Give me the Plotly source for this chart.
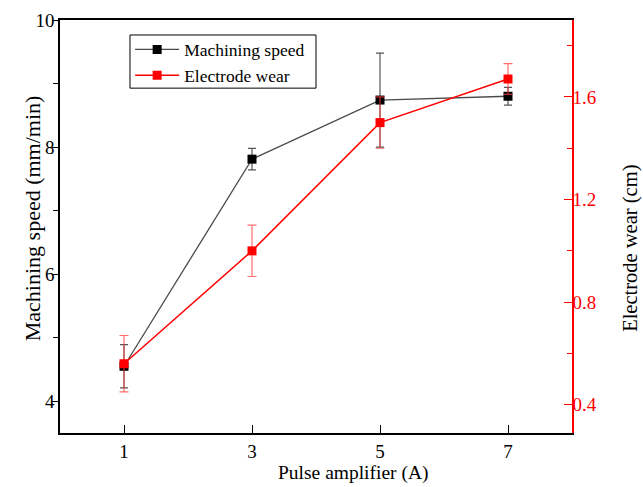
import plotly.graph_objects as go

pulse = [1, 3, 5, 7]
speed = [4.55, 7.81, 8.74, 8.80]
speed_err = [0.34, 0.17, 0.74, 0.14]
wear = [0.56, 1.00, 1.50, 1.67]
wear_err = [0.11, 0.10, 0.10, 0.06]

FONT = "Liberation Serif"

fig = go.Figure()
fig.add_trace(go.Scatter(
    x=pulse, y=speed, name="Machining speed", mode="lines+markers",
    line=dict(color="#4a4a4a", width=1.3),
    marker=dict(symbol="square", size=9, color="black"),
    error_y=dict(type="data", array=speed_err, color="#555555", thickness=1.2, width=4),
))
fig.add_trace(go.Scatter(
    x=pulse, y=wear, name="Electrode wear", mode="lines+markers", yaxis="y2",
    line=dict(color="#ff0000", width=1.5),
    marker=dict(symbol="square", size=9, color="#ff0000"),
    error_y=dict(type="data", array=wear_err, color="rgba(255,60,60,0.75)", thickness=1.2, width=4.5),
))

fig.update_layout(
    width=643, height=487,
    margin=dict(l=60, r=71, t=20, b=54),
    paper_bgcolor="white", plot_bgcolor="white",
    font=dict(family=FONT, size=19, color="black"),
    showlegend=True,
    legend=dict(
        x=0.137, y=0.972, xanchor="left", yanchor="top",
        borderwidth=0, bgcolor="rgba(0,0,0,0)",
        font=dict(family=FONT, size=17.5, color="black"),
        itemwidth=44, tracegroupgap=0,
    ),
    shapes=[
        dict(type="rect", xref="paper", yref="paper", x0=0.1367, x1=0.5, y0=0.835, y1=0.9637,
             line=dict(color="black", width=1), fillcolor="rgba(0,0,0,0)", layer="above"),
    ],
    xaxis=dict(
        range=[0, 8], tickvals=pulse, ticks="inside", ticklen=8, tickcolor="black",
        showline=True, linecolor="black", linewidth=1.5, mirror=True,
        showgrid=False, zeroline=False, automargin=False,
        tickfont=dict(size=19),
    ),
    yaxis=dict(
        range=[3.5, 10], tick0=0, dtick=2, ticks="outside", ticklen=6, tickcolor="black",
        minor=dict(dtick=1, ticks="outside", ticklen=5, tickcolor="black"),
        showline=True, linecolor="black", linewidth=1.5,
        showgrid=False, zeroline=False, automargin=False,
        tickfont=dict(size=19), ticklabelstandoff=-6,
    ),
    yaxis2=dict(
        range=[0.29, 1.9], overlaying="y", side="right",
        tickvals=[0.4, 0.8, 1.2, 1.6], ticktext=["0.4", "0.8", "1.2", "1.6"],
        ticks="inside", ticklen=8, tickcolor="#ff0000",
        minor=dict(tickvals=[0.6, 1.0, 1.4, 1.8], ticks="inside", ticklen=5, tickcolor="#ff0000"),
        showline=True, linecolor="#ff0000", linewidth=1.5,
        showgrid=False, zeroline=False, automargin=False,
        tickfont=dict(size=19, color="#ff0000"), ticklabelstandoff=-5,
    ),
    annotations=[
        dict(text="Pulse amplifier (A)", xref="paper", yref="paper", x=0.574, y=-0.098,
             xanchor="center", yanchor="middle", showarrow=False, font=dict(size=19.5)),
        dict(text="Machining speed (mm/min)", xref="paper", yref="paper", x=-0.0547, y=0.52,
             xanchor="center", yanchor="middle", textangle=-90, showarrow=False, font=dict(size=22)),
        dict(text="Electrode wear (cm)", xref="paper", yref="paper", x=1.115, y=0.448,
             xanchor="center", yanchor="middle", textangle=-90, showarrow=False, font=dict(size=20.5)),
    ],
)

fig.write_html("out.html")
